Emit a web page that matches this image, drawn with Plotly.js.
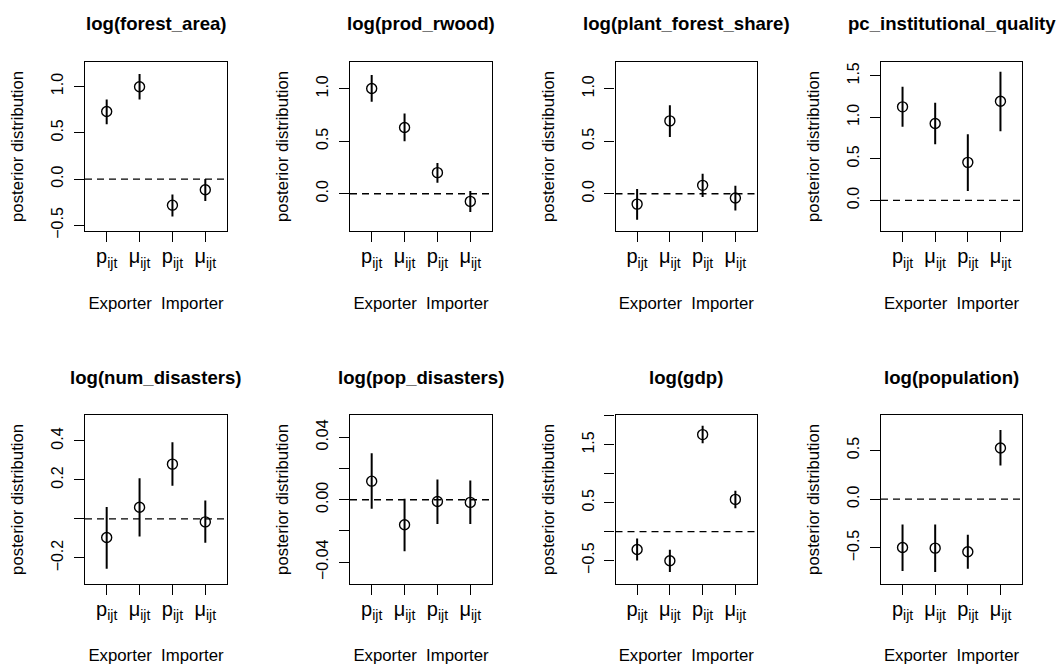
<!DOCTYPE html>
<html>
<head>
<meta charset="utf-8">
<script src="https://cdn.plot.ly/plotly-3.0.1.min.js"></script>
<style>html,body{margin:0;padding:0;background:#fff;}</style>
</head>
<body>
<div id="chart" style="width:1057px;height:665px;"></div>
<script>
// ---------- data ----------
const panelTitles = ["log(forest_area)", "log(prod_rwood)", "log(plant_forest_share)", "pc_institutional_quality",
                     "log(num_disasters)", "log(pop_disasters)", "log(gdp)", "log(population)"];
const xPositions = [1, 2, 3, 4];
const xTickLabels = ["p<sub>ijt</sub>", "μ<sub>ijt</sub>", "p<sub>ijt</sub>", "μ<sub>ijt</sub>"];
const xLabel = "Exporter\u00a0\u00a0Importer";
const yLabel = "posterior distribution";

// posterior means and interval ends (Exporter p, Exporter mu, Importer p, Importer mu)
const forestAreaMean = [0.729, 0.996, -0.282, -0.116];
const forestAreaLow  = [0.592, 0.859, -0.404, -0.238];
const forestAreaHigh = [0.859, 1.134, -0.166, 0.000];

const prodRwoodMean = [1.003, 0.631, 0.201, -0.073];
const prodRwoodLow  = [0.876, 0.500, 0.105, -0.175];
const prodRwoodHigh = [1.131, 0.764, 0.293, 0.025];

const plantShareMean = [-0.099, 0.694, 0.080, -0.041];
const plantShareLow  = [-0.248, 0.541, -0.032, -0.159];
const plantShareHigh = [0.045, 0.844, 0.191, 0.076];

const instQualityMean = [1.126, 0.925, 0.458, 1.194];
const instQualityLow  = [0.885, 0.675, 0.113, 0.832];
const instQualityHigh = [1.367, 1.174, 0.796, 1.548];

const numDisastersMean = [-0.095, 0.060, 0.281, -0.015];
const numDisastersLow  = [-0.255, -0.090, 0.170, -0.122];
const numDisastersHigh = [0.061, 0.209, 0.393, 0.094];

const popDisastersMean = [0.0119, -0.0160, -0.0011, -0.0017];
const popDisastersLow  = [-0.0057, -0.0330, -0.0155, -0.0155];
const popDisastersHigh = [0.0298, 0.0006, 0.0130, 0.0123];

const gdpMean = [-0.310, -0.506, 1.678, 0.557];
const gdpLow  = [-0.500, -0.701, 1.529, 0.402];
const gdpHigh = [-0.121, -0.316, 1.833, 0.707];

const populationMean = [-0.495, -0.502, -0.539, 0.526];
const populationLow  = [-0.737, -0.747, -0.713, 0.345];
const populationHigh = [-0.259, -0.259, -0.365, 0.710];

// y tick values / labels per panel
const yTickVals = [
  [-0.5, 0, 0.5, 1],
  [0, 0.5, 1],
  [0, 0.5, 1],
  [0, 0.5, 1, 1.5],
  [-0.2, 0, 0.2, 0.4],
  [-0.04, -0.02, 0, 0.02, 0.04],
  [-0.5, 0, 0.5, 1, 1.5, 2],
  [-0.5, 0, 0.5]
];
const yTickText = [
  ["−0.5", "0.0", "0.5", "1.0"],
  ["0.0", "0.5", "1.0"],
  ["0.0", "0.5", "1.0"],
  ["0.0", "0.5", "1.0", "1.5"],
  ["−0.2", "", "0.2", "0.4"],
  ["−0.04", "", "0.00", "", "0.04"],
  ["−0.5", "", "0.5", "", "1.5", ""],
  ["−0.5", "0.0", "0.5"]
];
const yRanges = [
  [-0.563, 1.267], [-0.357, 1.258], [-0.357, 1.258], [-0.370, 1.669],
  [-0.332, 0.533], [-0.0538, 0.0543], [-0.902, 2.017], [-0.867, 0.864]
];

const means = [forestAreaMean, prodRwoodMean, plantShareMean, instQualityMean,
               numDisastersMean, popDisastersMean, gdpMean, populationMean];
const lows = [forestAreaLow, prodRwoodLow, plantShareLow, instQualityLow,
              numDisastersLow, popDisastersLow, gdpLow, populationLow];
const highs = [forestAreaHigh, prodRwoodHigh, plantShareHigh, instQualityHigh,
               numDisastersHigh, popDisastersHigh, gdpHigh, populationHigh];

// ---------- layout geometry (pixels) ----------
const W = 1057, H = 665;
const colPx = [[85, 227], [350, 492], [615.5, 757], [881, 1022]];
const rowPx = [[61.7, 231.2], [415, 583.7]];   // top, bottom
const titleCenterPx = [24, 377.5];

const FONT = "Liberation Sans, Arial, Helvetica, sans-serif";
const traces = [];
const layout = {
  width: W, height: H,
  margin: {l: 0, r: 0, t: 0, b: 0},
  paper_bgcolor: "#ffffff", plot_bgcolor: "#ffffff",
  showlegend: false,
  font: {family: FONT, size: 16, color: "#000"},
  shapes: [], annotations: []
};

for (let i = 0; i < 8; i++) {
  const n = i + 1;
  const sfx = n === 1 ? "" : String(n);
  const col = i % 4, row = Math.floor(i / 4);
  const m = means[i], lo = lows[i], hi = highs[i];
  traces.push({
    type: "scatter", mode: "markers",
    x: xPositions, y: m,
    xaxis: "x" + sfx, yaxis: "y" + sfx,
    marker: {symbol: "circle-open", size: 10, color: "#000", line: {width: 1.4, color: "#000"}},
    error_y: {
      type: "data", symmetric: false,
      array: hi.map((v, k) => v - m[k]),
      arrayminus: m.map((v, k) => v - lo[k]),
      width: 0, thickness: 2, color: "#000"
    },
    hoverinfo: "x+y"
  });
  const xd = [colPx[col][0] / W, colPx[col][1] / W];
  const yd = [1 - rowPx[row][1] / H, 1 - rowPx[row][0] / H];
  layout["xaxis" + sfx] = {
    domain: xd, anchor: "y" + sfx, range: [0.34, 4.66],
    tickmode: "array", tickvals: xPositions, ticktext: xTickLabels,
    ticks: "outside", ticklen: 10, tickwidth: 1.3, tickcolor: "#000",
    ticklabelstandoff: -3,
    showline: true, mirror: true, linecolor: "#000", linewidth: 1.3,
    showgrid: false, zeroline: false,
    tickfont: {family: FONT, size: 20, color: "#000"},
    title: {text: xLabel, font: {family: FONT, size: 16.8, color: "#000"}, standoff: 27}
  };
  layout["yaxis" + sfx] = {
    domain: yd, anchor: "x" + sfx, range: yRanges[i],
    tickmode: "array", tickvals: yTickVals[i], ticktext: yTickText[i],
    ticks: "outside", ticklen: 10, tickwidth: 1.3, tickcolor: "#000",
    tickangle: -90, ticklabelstandoff: 4,
    showline: true, mirror: true, linecolor: "#000", linewidth: 1.3,
    showgrid: false, zeroline: false,
    tickfont: {family: FONT, size: 16, color: "#000"},
    title: {text: yLabel, font: {family: FONT, size: 16.8, color: "#000"}, standoff: 21}
  };
  layout.shapes.push({
    type: "line", xref: "x" + sfx + " domain", yref: "y" + sfx,
    x0: 0, x1: 1, y0: 0, y1: 0,
    line: {color: "#000", width: 1.3, dash: "7px,5px"}
  });
  layout.annotations.push({
    text: panelTitles[i], xref: "paper", yref: "paper",
    x: (xd[0] + xd[1]) / 2, y: 1 - titleCenterPx[row] / H,
    xanchor: "center", yanchor: "middle", showarrow: false,
    font: {family: FONT, size: 18.6, color: "#000", weight: "bold"}
  });
}

Plotly.newPlot("chart", traces, layout, {displayModeBar: false});
</script>
</body>
</html>
